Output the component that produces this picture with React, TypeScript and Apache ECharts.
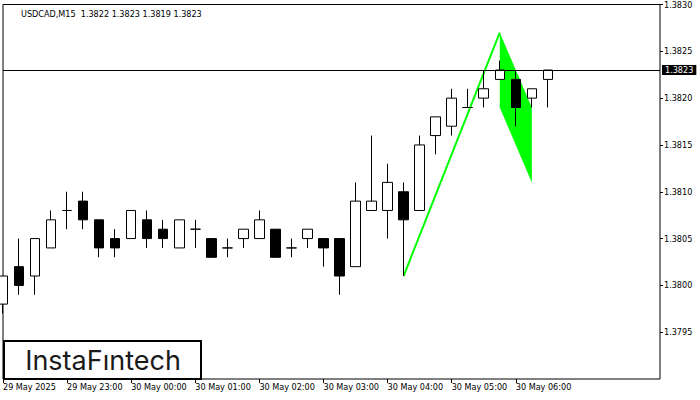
import React, { useEffect, useRef } from "react";
import * as echarts from "echarts";

const symbolName = "USDCAD,M15";

const times = [
  "29 May 22:00", "29 May 22:15", "29 May 22:30", "29 May 22:45",
  "29 May 23:00", "29 May 23:15", "29 May 23:30", "29 May 23:45",
  "30 May 00:00", "30 May 00:15", "30 May 00:30", "30 May 00:45",
  "30 May 01:00", "30 May 01:15", "30 May 01:30", "30 May 01:45",
  "30 May 02:00", "30 May 02:15", "30 May 02:30", "30 May 02:45",
  "30 May 03:00", "30 May 03:15", "30 May 03:30", "30 May 03:45",
  "30 May 04:00", "30 May 04:15", "30 May 04:30", "30 May 04:45",
  "30 May 05:00", "30 May 05:15", "30 May 05:30", "30 May 05:45",
  "30 May 06:00", "30 May 06:15", "30 May 06:30",
];
const futureTimes = [
  "30 May 06:45", "30 May 07:00", "30 May 07:15", "30 May 07:30",
  "30 May 07:45", "30 May 08:00", "30 May 08:15",
];

const opens = [
  1.3798, 1.3802, 1.3801, 1.3804, 1.3808, 1.3809, 1.3807, 1.3805, 1.3805, 1.3807,
  1.3806, 1.3804, 1.3806, 1.3805, 1.3804, 1.3805, 1.3805, 1.3806, 1.3804, 1.3805,
  1.3805, 1.3805, 1.3802, 1.3808, 1.3808, 1.3810, 1.3808, 1.3816, 1.3817, 1.3819,
  1.3820, 1.3822, 1.3822, 1.3820, 1.3822,
];
const closes = [
  1.3801, 1.3800, 1.3805, 1.3807, 1.3808, 1.3807, 1.3804, 1.3804, 1.3808, 1.3805,
  1.3805, 1.3807, 1.3806, 1.3803, 1.3804, 1.3806, 1.3807, 1.3803, 1.3804, 1.3806,
  1.3804, 1.3801, 1.3809, 1.3809, 1.3811, 1.3807, 1.3815, 1.3818, 1.3820, 1.3819,
  1.3821, 1.3823, 1.3819, 1.3821, 1.3823,
];
const lows = [
  1.3797, 1.3799, 1.3799, 1.3804, 1.3806, 1.3806, 1.3803, 1.3803, 1.3805, 1.3804,
  1.3804, 1.3804, 1.3804, 1.3803, 1.3803, 1.3804, 1.3805, 1.3803, 1.3803, 1.3804,
  1.3802, 1.3799, 1.3802, 1.3808, 1.3805, 1.3801, 1.3808, 1.3814, 1.3816, 1.3819,
  1.3819, 1.3822, 1.3817, 1.3819, 1.3819,
];
const highs = [
  1.3801, 1.3805, 1.3805, 1.3808, 1.3810, 1.3810, 1.3807, 1.3806, 1.3808, 1.3808,
  1.3807, 1.3807, 1.3807, 1.3805, 1.3805, 1.3806, 1.3808, 1.3806, 1.3805, 1.3806,
  1.3805, 1.3805, 1.3811, 1.3816, 1.3813, 1.3811, 1.3816, 1.3818, 1.3821, 1.3821,
  1.3823, 1.3824, 1.3823, 1.3821, 1.3823,
];

const xTickLabels = [
  "29 May 2025", "29 May 23:00", "30 May 00:00", "30 May 01:00", "30 May 02:00",
  "30 May 03:00", "30 May 04:00", "30 May 05:00", "30 May 06:00",
];

const yMin = 1.379;
const yMax = 1.383;
const yStep = 0.0005;

const currentPrice = 1.3823;

const poleX = [25, 31];
const poleY = [1.3801, 1.3827];
const flagX = [31, 33, 33, 31];
const flagY = [1.3827, 1.3819, 1.3811, 1.3819];

const FONT = "'DejaVu Sans Condensed', 'DejaVu Sans', sans-serif";

export default function App() {
  const ref = useRef<HTMLDivElement>(null);

  useEffect(() => {
    if (!ref.current) return;
    const chart = echarts.init(ref.current, null, { renderer: "svg" });
    const last = opens.length - 1;
    const titleText = `${symbolName}  ${opens[last].toFixed(4)} ${highs[last].toFixed(4)} ${lows[last].toFixed(4)} ${closes[last].toFixed(4)}`;
    const cats = times.concat(futureTimes);
    const showIdx = (i: number) => i % 4 === 0 && i < times.length;

    chart.setOption({
      animation: false,
      backgroundColor: "#fff",
      title: {
        text: titleText,
        left: 16,
        top: 4,
        textStyle: { fontFamily: FONT, fontSize: 9, fontWeight: "normal", color: "#000" },
      },
      grid: {
        left: 3,
        right: 40,
        top: 2,
        bottom: 21,
        show: true,
        borderColor: "#000",
        borderWidth: 1,
        backgroundColor: "#fff",
      },
      xAxis: {
        type: "category",
        data: cats,
        boundaryGap: false,
        axisLine: { show: false },
        axisTick: {
          show: true,
          length: 4,
          interval: (i: number) => showIdx(i),
          lineStyle: { color: "#000" },
        },
        axisLabel: {
          interval: (i: number) => showIdx(i),
          align: "left",
          margin: 3,
          color: "#000",
          fontFamily: FONT,
          fontSize: 9,
          formatter: (_v: string, i: number) => (showIdx(i) ? xTickLabels[i / 4] ?? "" : ""),
        },
        splitLine: { show: false },
      },
      yAxis: {
        type: "value",
        position: "right",
        min: yMin,
        max: yMax,
        interval: yStep,
        axisLine: { show: false },
        axisTick: { show: true, length: 3, lineStyle: { color: "#000" } },
        axisLabel: {
          margin: 4,
          color: "#000",
          fontFamily: FONT,
          fontSize: 9,
          showMinLabel: false,
          formatter: (v: number) => v.toFixed(4),
        },
        splitLine: { show: false },
      },
      series: [
        {
          type: "custom",
          z: 1,
          data: [[flagX[0], flagY[0]]],
          renderItem: (_params: any, api: any) => ({
            type: "polygon",
            shape: { points: flagX.map((x, i) => api.coord([x, flagY[i]])) },
            style: { fill: "#00ff00" },
          }),
          silent: true,
        },
        {
          type: "line",
          z: 2,
          data: poleX.map((x, i) => [x, poleY[i]]),
          symbol: "none",
          showSymbol: false,
          lineStyle: { color: "#00ff00", width: 2 },
          silent: true,
          markLine: {
            silent: true,
            precision: 4,
            symbol: ["none", "none"],
            lineStyle: { color: "#000", width: 1, type: "solid" },
            label: {
              show: true,
              position: "end",
              distance: 2,
              formatter: currentPrice.toFixed(4),
              backgroundColor: "#000",
              color: "#fff",
              fontFamily: FONT,
              fontSize: 9,
              padding: [1, 3, 0, 3],
            },
            data: [{ yAxis: currentPrice }],
          },
        },
        {
          type: "candlestick",
          z: 3,
          barWidth: 10,
          data: opens.map((o, i) => [o, closes[i], lows[i], highs[i]]),
          itemStyle: {
            color: "#fff",
            color0: "#000",
            borderColor: "#000",
            borderColor0: "#000",
            borderColorDoji: "#000",
            borderWidth: 1,
          },
        },
      ],
      graphic: [
        {
          type: "group",
          z: 100,
          children: [
            {
              type: "rect",
              shape: { x: 4, y: 341, width: 197, height: 38 },
              style: { fill: "#fff", stroke: "#000", lineWidth: 2 },
            },
            {
              type: "text",
              style: {
                text: "InstaFıntech",
                x: 103,
                y: 360,
                textAlign: "center",
                textVerticalAlign: "middle",
                fontSize: 27,
                fontFamily: "Inter, sans-serif",
                fill: "#1a1a1a",
              },
            },
          ],
        },
      ],
    });

    return () => chart.dispose();
  }, []);

  return (
    <div
      ref={ref}
      style={{ position: "absolute", left: 0, top: 0, width: 700, height: 400 }}
    />
  );
}
